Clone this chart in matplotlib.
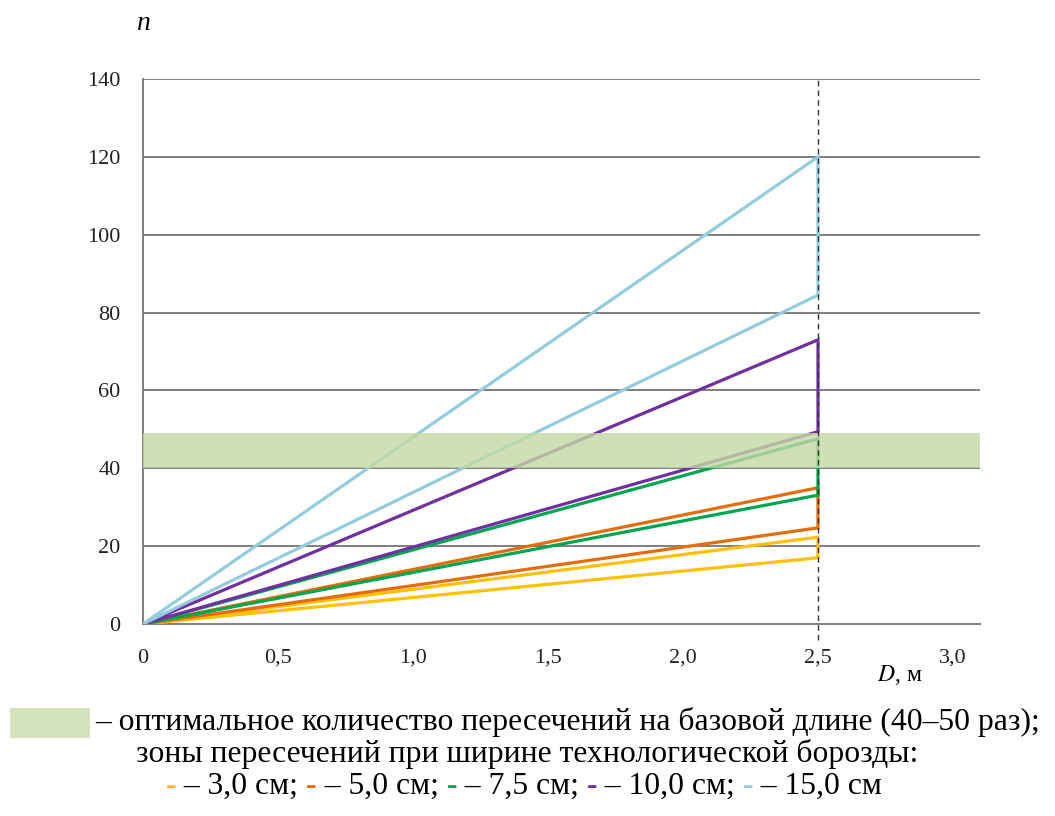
import matplotlib
matplotlib.use("Agg")
import matplotlib.pyplot as plt

# zones of crossings at base length D = 2.5 m: (low, high) values of n
widths = ["3,0 см", "5,0 см", "7,5 см", "10,0 см", "15,0 см"]
colors = ["#ffc000", "#e46c0a", "#00a550", "#7030a0", "#93cddd"]
n_low = [17.0, 24.7, 33.1, 49.4, 84.5]
n_high = [22.3, 35.0, 47.6, 73.0, 120.0]
base_len = 2.5
optimum = (40, 49)

x_ticks = [0, 0.5, 1.0, 1.5, 2.0, 2.5, 3.0]
x_labels = ["0", "0,5", "1,0", "1,5", "2,0", "2,5", "3,0"]
y_ticks = [0, 20, 40, 60, 80, 100, 120, 140]

plt.rcParams["font.family"] = ["Liberation Serif", "DejaVu Serif"]

fig = plt.figure(figsize=(10.55, 8.16), dpi=100)
ax = fig.add_axes([0.1355, 0.2353, 0.7934, 0.6679])

for y in y_ticks[1:]:
    ax.axhline(y, color="#7f7f7f", lw=1.4, zorder=1)

# each zone: from origin to the low and high value at the base length
for lo, hi, c in zip(n_low, n_high, colors):
    ax.plot([0, base_len, base_len, 0], [0, lo, hi, 0], color=c, lw=2.3,
            solid_joinstyle="miter", zorder=3)

ax.axhspan(optimum[0], optimum[1], color="#c3d9a4", alpha=0.8, lw=0, zorder=4)

ax.plot([base_len, base_len], [-4, 140], color="#333333", lw=1.0,
        ls=(0, (4, 3)), clip_on=False, zorder=5)

ax.set_xlim(0, 3.1)
ax.set_ylim(0, 140)
ax.set_xticks(x_ticks)
ax.set_xticklabels(x_labels)
ax.set_yticks(y_ticks)
ax.tick_params(length=0, labelsize=16, colors="#222222")
ax.tick_params(axis="x", pad=18)
ax.tick_params(axis="y", pad=16)
for s in ["top", "right"]:
    ax.spines[s].set_visible(False)
for s in ["left", "bottom"]:
    ax.spines[s].set_color("#7f7f7f")
    ax.spines[s].set_linewidth(1.4)

fig.text(143 / 1055, 1 - 24 / 816, "n", style="italic", fontsize=20,
         ha="center", va="center")
fig.text(877 / 1055, 1 - 675 / 816, "$\\it{D}$, м", fontsize=17,
         ha="left", va="center", math_fontfamily="stix")

# legend below the chart
fig.patches.append(plt.Rectangle((10 / 1055, 1 - 738 / 816), 80 / 1055, 30 / 816,
                                 transform=fig.transFigure, color="#d5e4bd", lw=0))
fs = 22.8
fig.text(95 / 1055, 1 - 722 / 816,
         "– оптимальное количество пересечений на базовой длине (40–50 раз);",
         fontsize=fs, ha="left", va="center")
fig.text(136 / 1055, 1 - 754 / 816,
         "зоны пересечений при ширине технологической борозды:",
         fontsize=fs, ha="left", va="center")

# third row: coloured dashes chained with their labels
anchor = fig.text(166 / 1055, 1 - 786 / 816, "-", color=colors[0], fontsize=fs,
                  ha="left", va="center", fontweight="bold")
for i, w in enumerate(widths):
    if i > 0:
        anchor = ax.annotate("-", xy=(1, 0), xycoords=anchor, va="bottom", ha="left",
                             color=colors[i], fontsize=fs, fontweight="bold",
                             annotation_clip=False)
    tail = f" – {w}" + ("; " if i < len(widths) - 1 else "")
    anchor = ax.annotate(tail, xy=(1, 0), xycoords=anchor, va="bottom", ha="left",
                         fontsize=fs, annotation_clip=False)

fig.savefig("out.png", dpi=100)
